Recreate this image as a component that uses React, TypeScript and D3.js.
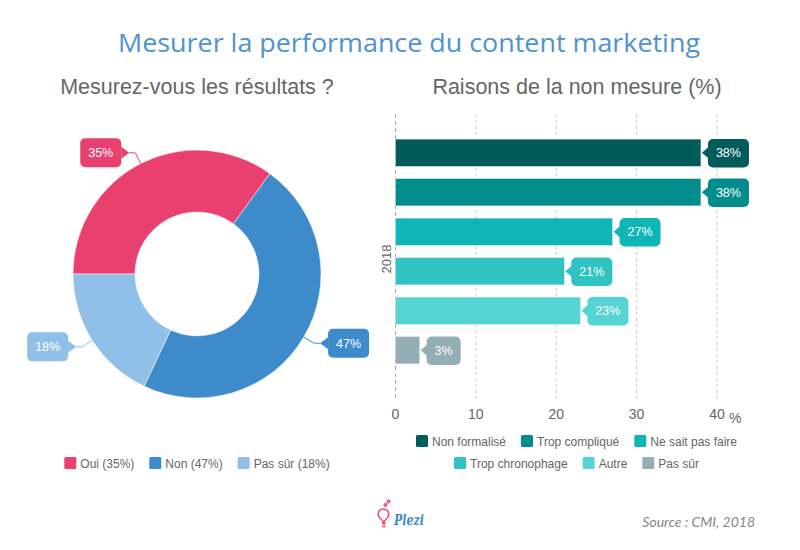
import React from 'react';
import * as d3 from 'd3';

// left: "Mesurez-vous les résultats ?"
const pieLabels = ['Oui', 'Non', 'Pas sûr'];
const pieValues = [35, 47, 18];
const pieColors = ['#e9406f', '#3d8bcb', '#90c0e8'];

// right: "Raisons de la non mesure (%)"
const barLabels = [
  'Non formalisé',
  'Trop compliqué',
  'Ne sait pas faire',
  'Trop chronophage',
  'Autre',
  'Pas sûr',
];
const barValues = [38, 38, 27, 21, 23, 3];
const barColors = ['#005b5b', '#008d8b', '#10b6b5', '#2fc3c2', '#55d4d4', '#93aeb4'];
const xTicks = [0, 10, 20, 30, 40];
const category = '2018';

const font = "'Liberation Sans', Arial, sans-serif";
const grey = '#666666';
const labelFont = `12.5px ${font}`;

let ctx: CanvasRenderingContext2D | null = null;
const textWidth = (s: string, f: string) => {
  if (!ctx) ctx = document.createElement('canvas').getContext('2d');
  if (!ctx) return s.length * 6;
  ctx.font = f;
  return ctx.measureText(s).width;
};

// lays legend items out in a centred row
const legendRow = (items: string[], cx: number) => {
  const f = `12px ${font}`;
  const w = items.map((s) => 16 + textWidth(s, f));
  const gap = 15;
  const total = d3.sum(w) + gap * (items.length - 1);
  let x = cx - total / 2;
  return items.map((s, i) => {
    const pos = x;
    x += w[i] + gap;
    return { label: s, x: pos };
  });
};

const Donut = () => {
  const cx = 197;
  const cy = 274;
  const R = 124;
  const pie = d3
    .pie<number>()
    .sort(null)
    .startAngle(-Math.PI / 2)
    .endAngle((3 * Math.PI) / 2);
  const arcs = pie(pieValues);
  const arc = d3.arc<d3.PieArcDatum<number>>().innerRadius(62).outerRadius(R);

  return (
    <g>
      <g transform={`translate(${cx},${cy})`}>
        {arcs.map((a, i) => (
          <path key={i} d={arc(a) || ''} fill={pieColors[i]} stroke="#fff" strokeWidth={0.5} />
        ))}
      </g>
      {arcs.map((a, i) => {
        const mid = (a.startAngle + a.endAngle) / 2;
        const right = Math.sin(mid) >= 0;
        const s = right ? 1 : -1;
        const ex = cx + R * Math.sin(mid);
        const ey = cy - R * Math.cos(mid);
        const bx = cx + (R + 12) * Math.sin(mid);
        const by = cy - (R + 12) * Math.cos(mid);
        const tx = bx + s * 6;
        const label = `${pieValues[i]}%`;
        const boxW = textWidth(label, labelFont) + 16;
        const boxH = 29;
        const edge = tx + s * 8;
        const x0 = right ? edge : edge - boxW;
        return (
          <g key={i}>
            <polyline
              points={`${ex},${ey} ${bx},${by} ${tx},${by}`}
              fill="none"
              stroke={pieColors[i]}
              strokeWidth={1}
            />
            <rect x={x0} y={by - boxH / 2} width={boxW} height={boxH} rx={5} fill={pieColors[i]} />
            <polygon
              points={`${tx},${by} ${edge},${by - 6} ${edge},${by + 6}`}
              fill={pieColors[i]}
            />
            <text
              x={x0 + boxW / 2}
              y={by + 4.5}
              textAnchor="middle"
              fill="#fff"
              fontSize={12.5}
              fontFamily={font}
            >
              {label}
            </text>
          </g>
        );
      })}
      {legendRow(
        pieLabels.map((l, i) => `${l} (${pieValues[i]}%)`),
        cx,
      ).map((it, i) => (
        <g key={i}>
          <rect x={it.x} y={457} width={12} height={12} rx={1.5} fill={pieColors[i]} />
          <text x={it.x + 16} y={467.5} fontSize={12} fontFamily={font} fill={grey}>
            {it.label}
          </text>
        </g>
      ))}
    </g>
  );
};

const Bars = () => {
  const x = d3.scaleLinear().domain([0, 40]).range([395.5, 717]);
  const y = d3
    .scaleBand<string>()
    .domain(barLabels)
    .range([133, 370])
    .paddingInner(0.31)
    .paddingOuter(0.155);
  const bw = y.bandwidth();
  const gridTop = 114;
  const gridBottom = 400;

  return (
    <g>
      {xTicks.map((t) => (
        <g key={t}>
          <line
            x1={x(t)}
            x2={x(t)}
            y1={gridTop}
            y2={gridBottom}
            stroke={t === 0 ? '#aaaaaa' : '#c8c8c8'}
            strokeDasharray={t === 0 ? '4,3' : '3,3'}
          />
          <text x={x(t)} y={419} textAnchor="middle" fontSize={14} fontFamily={font} fill={grey}>
            {t}
          </text>
        </g>
      ))}
      <text x={729} y={423} fontSize={14} fontFamily={font} fill={grey}>
        %
      </text>
      <text
        transform={`translate(391,${(gridTop + gridBottom) / 2 + 2}) rotate(-90)`}
        textAnchor="middle"
        fontSize={13}
        fontFamily={font}
        fill={grey}
      >
        {category}
      </text>
      {barLabels.map((l, i) => {
        const y0 = y(l) || 0;
        const x1 = x(barValues[i]);
        const cyb = y0 + bw / 2;
        const tip = x1 + 1;
        const edge = x1 + 7;
        const label = `${barValues[i]}%`;
        const boxW = textWidth(label, labelFont) + 16;
        return (
          <g key={l}>
            <rect
              x={x(0)}
              y={y0}
              width={x1 - x(0)}
              height={bw}
              fill={barColors[i]}
              stroke="#e4e4e4"
              strokeWidth={0.5}
            />
            <rect x={edge} y={y0} width={boxW} height={bw + 1} rx={5} fill={barColors[i]} />
            <polygon
              points={`${tip},${cyb} ${edge + 1},${cyb - 6} ${edge + 1},${cyb + 6}`}
              fill={barColors[i]}
            />
            <text
              x={edge + boxW / 2}
              y={cyb + 4.5}
              textAnchor="middle"
              fontSize={12.5}
              fontFamily={font}
              fill="#fff"
            >
              {label}
            </text>
          </g>
        );
      })}
      {[barLabels.slice(0, 3), barLabels.slice(3)].map((row, r) =>
        legendRow(row, 576.5).map((it, j) => {
          const i = r * 3 + j;
          const yy = r === 0 ? 435 : 457;
          return (
            <g key={it.label}>
              <rect x={it.x} y={yy} width={12} height={12} rx={1.5} fill={barColors[i]} />
              <text x={it.x + 16} y={yy + 10.5} fontSize={12} fontFamily={font} fill={grey}>
                {it.label}
              </text>
            </g>
          );
        }),
      )}
    </g>
  );
};

const Logo = () => (
  <g>
    <g fill="none" stroke="#ea4a78" strokeWidth={1.5}>
      <path d="M383,524 L383,521 C379,518 377.5,515.5 378.2,513 C379,510 381,509 383.5,509 C386,509 388,510.5 388.6,513 C389.2,515.5 387.8,518 384.5,521 L384.5,524 Z" />
      <line x1={382} y1={526.5} x2={385.5} y2={526.5} />
      <circle cx={385.5} cy={505} r={1.3} />
      <circle cx={388.5} cy={501.5} r={1.3} />
    </g>
    <text
      x={394}
      y={525}
      fontSize={14}
      fontStyle="italic"
      fontWeight="bold"
      fontFamily="'DejaVu Serif', serif"
      fill="#3d8bcb"
      textLength={30}
      lengthAdjust="spacingAndGlyphs"
    >
      Plezi
    </text>
  </g>
);

const App = () => (
  <svg width={800} height={550} style={{ display: 'block', position: 'absolute', left: 0, top: 0 }}>
    <rect width={800} height={550} fill="#fff" />
    <text
      x={409}
      y={52}
      textAnchor="middle"
      fontSize={25}
      fontFamily="'Open Sans', sans-serif"
      fill="#4d93d2"
      textLength={582}
      lengthAdjust="spacingAndGlyphs"
    >
      Mesurer la performance du content marketing
    </text>
    <text x={197} y={94} textAnchor="middle" fontSize={21.5} fontFamily={font} fill={grey}>
      Mesurez-vous les résultats ?
    </text>
    <text x={577} y={94} textAnchor="middle" fontSize={21.5} fontFamily={font} fill={grey}>
      Raisons de la non mesure (%)
    </text>
    <Donut />
    <Bars />
    <Logo />
    <text
      x={755}
      y={527}
      textAnchor="end"
      fontSize={14}
      fontStyle="italic"
      fontFamily="Lato, sans-serif"
      fill="#858585"
    >
      Source : CMI, 2018
    </text>
  </svg>
);

export default App;
